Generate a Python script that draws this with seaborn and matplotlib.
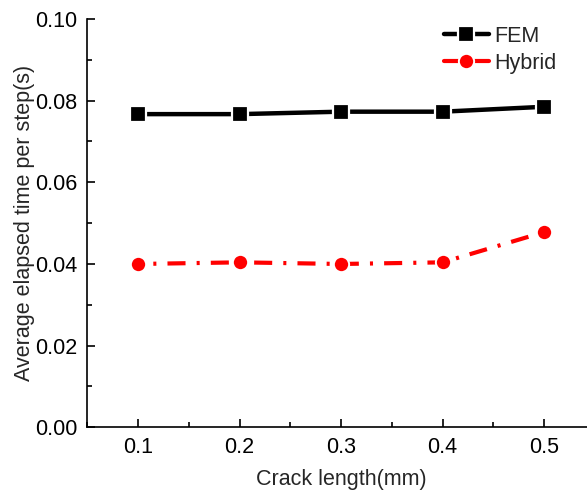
import matplotlib
matplotlib.use("Agg")
import matplotlib.pyplot as plt
from matplotlib.ticker import MultipleLocator, FormatStrFormatter
import seaborn as sns
import pandas as pd

crack_length = [0.1, 0.2, 0.3, 0.4, 0.5]
fem_time = [0.0767, 0.0767, 0.0773, 0.0773, 0.0785]
hybrid_time = [0.0400, 0.0404, 0.0400, 0.0404, 0.0478]

sns.set_style("ticks")
plt.rcParams["font.family"] = ["Liberation Sans", "DejaVu Sans"]
plt.rcParams["lines.scale_dashes"] = False

df = pd.DataFrame({"x": crack_length, "FEM": fem_time, "Hybrid": hybrid_time})

fig = plt.figure(figsize=(5.87, 4.92), dpi=100)
ax = fig.add_axes([0.1487, 0.1315, 0.8646, 0.8299])

fs = 15.5

sns.lineplot(data=df, x="x", y="FEM", ax=ax, color="black", label="FEM",
             marker="s", markersize=11, markeredgecolor="white",
             markeredgewidth=1.6, linewidth=3.2, zorder=3)
sns.lineplot(data=df, x="x", y="Hybrid", ax=ax, color="#ff0000", label="Hybrid",
             marker="o", markersize=11, markeredgecolor="white",
             markeredgewidth=1.4, linewidth=3.0,
             linestyle=(10, (13, 8, 2.2, 8)), zorder=3)

ax.set_xlim(0.05, 0.55)
ax.set_ylim(0.0, 0.10)
ax.xaxis.set_major_locator(MultipleLocator(0.1))
ax.xaxis.set_minor_locator(MultipleLocator(0.05))
ax.yaxis.set_major_locator(MultipleLocator(0.02))
ax.yaxis.set_minor_locator(MultipleLocator(0.01))
ax.xaxis.set_major_formatter(FormatStrFormatter("%.1f"))
ax.yaxis.set_major_formatter(FormatStrFormatter("%.2f"))
ax.tick_params(which="both", direction="in", width=1.2, labelsize=fs,
               colors="black")
ax.tick_params(which="major", length=6, pad=7)
ax.tick_params(which="minor", length=3.5)
ax.tick_params(axis="x", which="major", pad=7)
for s in ("top", "right"):
    ax.spines[s].set_visible(False)
for s in ("left", "bottom"):
    ax.spines[s].set_linewidth(1.2)
    ax.spines[s].set_color("black")

ax.set_xlabel("Crack length(mm)", fontsize=fs, labelpad=8)
ax.set_ylabel("Average elapsed time per step(s)", fontsize=fs, labelpad=0)

leg = ax.legend(loc="upper left", bbox_to_anchor=(0.685, 1.005), frameon=False,
                fontsize=fs, handlelength=2.1, handletextpad=0.25,
                labelspacing=0.3, borderaxespad=0.0)
for line in leg.get_lines():
    line.set_linestyle("-")

fig.savefig("out.png", dpi=100)
